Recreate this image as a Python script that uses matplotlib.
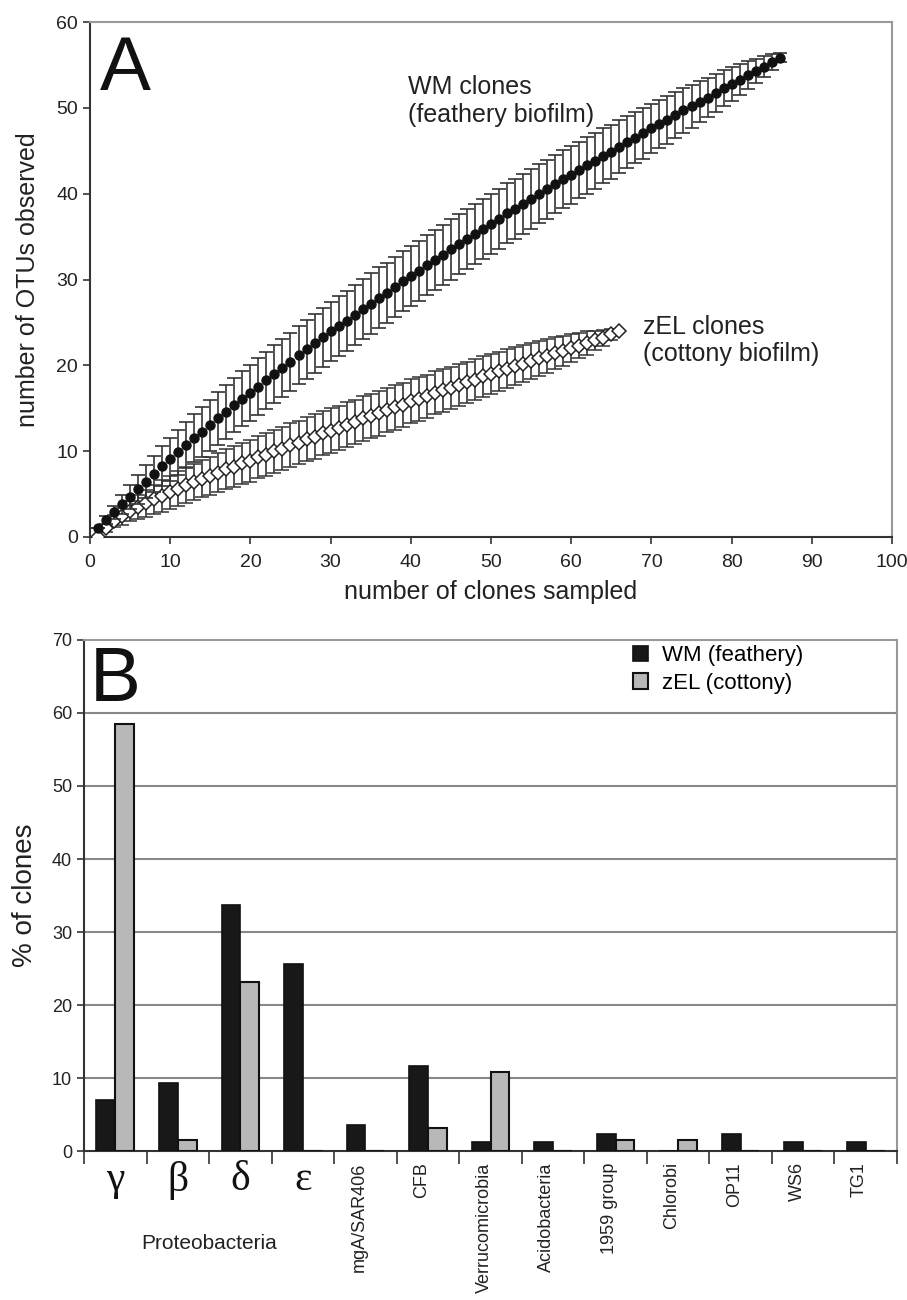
import numpy as np
import matplotlib
matplotlib.use("Agg")
import matplotlib.pyplot as plt
from matplotlib.patches import Patch

plt.rcParams['font.family'] = ['Liberation Sans', 'DejaVu Sans']

# ---- panel A: rarefaction curves ----
wm_mean = [1.0, 1.95, 2.85, 3.8, 4.7, 5.55, 6.45, 7.35, 8.25, 9.05,
           9.85, 10.7, 11.5, 12.25, 13.0, 13.8, 14.55, 15.35, 16.1, 16.8,
           17.5, 18.25, 19.0, 19.7, 20.4, 21.2, 21.85, 22.55, 23.25, 23.95,
           24.6, 25.2, 25.9, 26.55, 27.2, 27.9, 28.45, 29.15, 29.8, 30.4,
           31.0, 31.7, 32.3, 32.9, 33.5, 34.1, 34.7, 35.3, 35.9, 36.5,
           37.05, 37.7, 38.2, 38.8, 39.4, 40.0, 40.5, 41.1, 41.7, 42.2,
           42.75, 43.3, 43.8, 44.4, 44.9, 45.5, 46.0, 46.55, 47.05, 47.6,
           48.1, 48.6, 49.15, 49.7, 50.2, 50.7, 51.2, 51.7, 52.3, 52.8,
           53.3, 53.8, 54.3, 54.8, 55.35, 55.85]
wm_sd = [0.0, 0.5, 0.8, 1.1, 1.4, 1.7, 1.9, 2.1, 2.3, 2.5,
         2.6, 2.7, 2.8, 2.9, 3.0, 3.05, 3.1, 3.15, 3.2, 3.25,
         3.3, 3.3, 3.35, 3.35, 3.4, 3.4, 3.4, 3.45, 3.45, 3.45,
         3.5, 3.5, 3.5, 3.5, 3.5, 3.5, 3.5, 3.5, 3.5, 3.5,
         3.5, 3.5, 3.5, 3.5, 3.5, 3.5, 3.5, 3.5, 3.5, 3.5,
         3.5, 3.5, 3.5, 3.5, 3.5, 3.45, 3.45, 3.4, 3.4, 3.35,
         3.3, 3.3, 3.25, 3.2, 3.15, 3.1, 3.05, 3.0, 2.95, 2.9,
         2.8, 2.75, 2.7, 2.6, 2.5, 2.4, 2.3, 2.2, 2.1, 1.95,
         1.8, 1.65, 1.45, 1.2, 0.9, 0.5]

zel_mean = [0.0, 1.0, 1.8, 2.4, 3.0, 3.5, 3.9, 4.4, 4.8, 5.2,
            5.6, 6.0, 6.4, 6.8, 7.1, 7.5, 7.9, 8.2, 8.6, 8.9,
            9.3, 9.6, 10.0, 10.3, 10.7, 11.0, 11.4, 11.7, 12.1, 12.4,
            12.7, 13.1, 13.4, 13.8, 14.1, 14.4, 14.8, 15.1, 15.4, 15.8,
            16.1, 16.4, 16.8, 17.1, 17.4, 17.7, 18.0, 18.3, 18.7, 19.0,
            19.3, 19.6, 19.9, 20.2, 20.5, 20.8, 21.1, 21.4, 21.7, 22.0,
            22.3, 22.6, 22.9, 23.2, 23.6, 24.0]
zel_sd = [0.0, 0.4, 0.7, 1.0, 1.2, 1.4, 1.55, 1.7, 1.85, 1.95,
          2.05, 2.1, 2.15, 2.2, 2.25, 2.3, 2.35, 2.4, 2.4, 2.45,
          2.45, 2.5, 2.5, 2.5, 2.55, 2.55, 2.55, 2.6, 2.6, 2.6,
          2.6, 2.6, 2.6, 2.6, 2.6, 2.6, 2.6, 2.6, 2.55, 2.55,
          2.55, 2.5, 2.5, 2.5, 2.45, 2.45, 2.4, 2.4, 2.35, 2.3,
          2.3, 2.25, 2.2, 2.15, 2.1, 2.0, 1.95, 1.85, 1.75, 1.65,
          1.5, 1.35, 1.15, 0.95, 0.65, 0.0]

# ---- panel B: % of clones per group ----
groups = ["γ", "β", "δ", "ε", "mgA/SAR406", "CFB", "Verrucomicrobia",
          "Acidobacteria", "1959 group", "Chlorobi", "OP11", "WS6", "TG1"]
wm_pct = [7.0, 9.3, 33.7, 25.6, 3.5, 11.6, 1.2, 1.2, 2.3, 0.0, 2.3, 1.2, 1.2]
zel_pct = [58.5, 1.5, 23.1, 0.0, 0.0, 3.1, 10.8, 0.0, 1.5, 1.5, 0.0, 0.0, 0.0]

fig = plt.figure(figsize=(9.07, 13.0), dpi=100)

# ================= A =================
axA = fig.add_axes([0.0992, 0.587, 0.8843, 0.396])
wm_x = np.arange(1, len(wm_mean) + 1)
zel_x = np.arange(1, len(zel_mean) + 1)

axA.errorbar(zel_x, zel_mean, yerr=zel_sd, fmt='D', ms=7.5, mfc='white',
             mec='#222222', mew=1.1, ecolor='#333333', elinewidth=1.2,
             capsize=5, capthick=1.2, zorder=3)
axA.errorbar(wm_x, wm_mean, yerr=wm_sd, fmt='o', ms=6.5, mfc='#111111',
             mec='#111111', ecolor='#333333', elinewidth=1.2,
             capsize=5, capthick=1.2, zorder=4)

axA.set_xlim(0, 100)
axA.set_ylim(0, 60)
axA.set_xticks(range(0, 101, 10))
axA.set_yticks(range(0, 61, 10))
axA.tick_params(axis='both', labelsize=14, direction='out', length=5,
                width=1.2, color='#333333', labelcolor='#222222')
axA.tick_params(axis='x', pad=7)
for s in ['left', 'bottom']:
    axA.spines[s].set_color('#333333')
    axA.spines[s].set_linewidth(1.5)
for s in ['top', 'right']:
    axA.spines[s].set_color('#999999')
    axA.spines[s].set_linewidth(1.5)
axA.set_xlabel("number of clones sampled", fontsize=18, color='#222222',
               labelpad=7)
axA.set_ylabel("number of OTUs observed", fontsize=18, color='#222222',
               labelpad=12)

axA.text(0.012, 0.975, "A", transform=axA.transAxes, fontsize=55,
         va='top', ha='left', color='#111111')
axA.text(39.6, 50.8, "WM clones\n(feathery biofilm)", fontsize=18,
         va='center', ha='left', color='#222222')
axA.text(69.0, 22.9, "zEL clones\n(cottony biofilm)", fontsize=18,
         va='center', ha='left', color='#222222')

# ================= B =================
axB = fig.add_axes([0.0926, 0.1146, 0.8964, 0.3931])
pos = np.arange(len(groups)) + 0.5
bw = 0.3
axB.bar(pos - bw / 2, wm_pct, width=bw, color='#181818', edgecolor='#111111',
        linewidth=1.2, zorder=3, label="WM (feathery)")
axB.bar(pos + bw / 2, zel_pct, width=bw, color='#b8b8b8', edgecolor='#111111',
        linewidth=1.5, zorder=3, label="zEL (cottony)")

axB.set_xlim(0, len(groups))
axB.set_ylim(0, 70)
axB.set_yticks(range(0, 71, 10))
for yv in range(10, 70, 10):
    axB.axhline(yv, color='#888888', lw=1.5, zorder=1)
axB.set_xticks(np.arange(0, len(groups) + 1))
axB.set_xticklabels([])
axB.tick_params(axis='x', direction='out', length=9, width=1.2,
                color='#333333')
axB.tick_params(axis='y', direction='out', length=5, width=1.2,
                color='#333333', labelsize=13, labelcolor='#222222')
for s in ['left', 'bottom']:
    axB.spines[s].set_color('#333333')
    axB.spines[s].set_linewidth(1.5)
for s in ['top', 'right']:
    axB.spines[s].set_color('#999999')
    axB.spines[s].set_linewidth(1.5)
axB.set_ylabel("% of clones", fontsize=20, color='#222222', labelpad=10)

tr = axB.get_xaxis_transform()
for i, g in enumerate(groups):
    if i < 4:
        axB.text(pos[i], -0.057, g, transform=tr, ha='center', va='center',
                 fontsize=30, family=['Liberation Serif', 'DejaVu Serif'],
                 color='#111111')
    else:
        axB.text(pos[i] - 0.1, -0.022, g, transform=tr, ha='center', va='top',
                 rotation=90, fontsize=13, color='#222222')
axB.text(2.0, -0.18, "Proteobacteria", transform=tr, ha='center',
         va='center', fontsize=15, color='#222222')

axB.text(0.007, 0.988, "B", transform=axB.transAxes, fontsize=55,
         va='top', ha='left', color='#111111')

handles = [Patch(facecolor='#181818', edgecolor='#111111', lw=1.2),
           Patch(facecolor='#b8b8b8', edgecolor='#111111', lw=1.5)]
axB.legend(handles, ["WM (feathery)", "zEL (cottony)"], loc='upper left',
           bbox_to_anchor=(0.675, 0.99), frameon=False, fontsize=16,
           handlelength=0.7, handleheight=0.7, handletextpad=0.6,
           labelspacing=0.3, borderpad=0, borderaxespad=0)

fig.savefig("out.png", dpi=100)
